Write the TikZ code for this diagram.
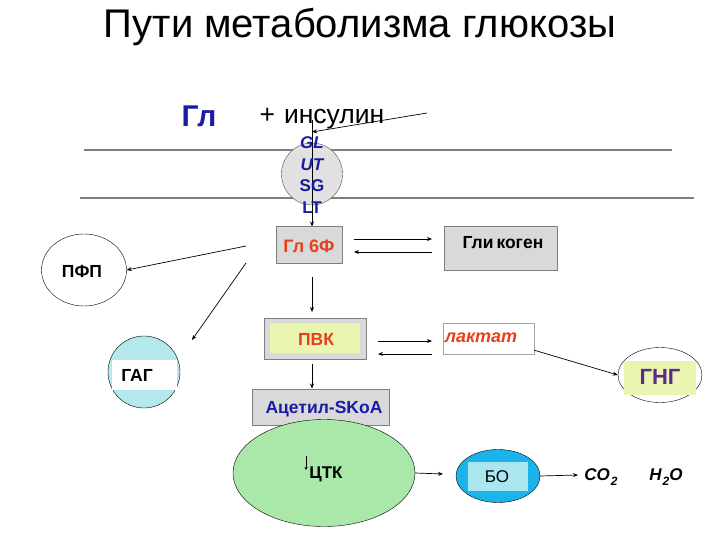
\documentclass[tikz,border=0pt]{standalone}
\usepackage{fontspec}
\setmainfont{Liberation Sans}
\usetikzlibrary{arrows.meta,shapes.geometric}
\definecolor{boxgray}{HTML}{D9D9D9}
\definecolor{edgegray}{HTML}{7F7F7F}
\definecolor{txtblue}{HTML}{1A1AA6}
\definecolor{txtred}{HTML}{E8401C}
\definecolor{ygreen}{HTML}{EAF5B0}
\definecolor{lgreen}{HTML}{A9E8A9}
\definecolor{lcyan}{HTML}{B4E8EC}
\definecolor{bblue}{HTML}{1CB2EA}
\definecolor{pcyan}{HTML}{A9E6F0}
\definecolor{purp}{HTML}{5A2A90}
\newcommand{\lowsub}[1]{\kern1pt\raisebox{-4.5pt}{\bfseries\itshape\fontsize{12}{13}\selectfont #1}}
\tikzset{
  x=1pt,y=-1pt,
  arr/.style={-{Stealth[length=5pt,width=4pt]},line width=0.7pt},
  graybox/.style={draw=edgegray,line width=1pt,fill=boxgray,rectangle,inner sep=0pt},
  lbl/.style={font=\bfseries\fontsize{17.5}{19}\selectfont},
  membrane/.style={draw=edgegray,line width=1.3pt}
}
\begin{document}
\begin{tikzpicture}
\useasboundingbox (0,0) rectangle (720,540);
% title
\node (title) at (360,27) {\fontsize{40}{44}\selectfont Пути метаболизма глюкозы};
\node[text=txtblue,font=\bfseries\fontsize{30}{32}\selectfont] (gl) at (199,116) {Гл};
\node[font=\fontsize{26.5}{30}\selectfont] (ins) at (322,119) {+\,\,инсулин};
% membrane
\draw[membrane] (84,150) -- (672,150);
\draw[membrane] (80,198) -- (694,198);
% GLUT
\node[ellipse,draw=black!70,fill=boxgray!80,minimum width=61pt,minimum height=62pt,inner sep=0pt] (glut) at (312,174) {};
\draw[line width=0.7pt] (312,120) -- (312,222);
\coordinate (insstart) at (427,113);
\coordinate (insend) at (312,132);
\draw[arr] (insstart) -- (insend);
\node[text=txtblue,font=\bfseries\fontsize{17}{21.7}\selectfont,align=center] (gluttext) at (312,175) {\itshape GL\\\itshape UT\\SG\\LT};
% boxes
\node[graybox,minimum width=66pt,minimum height=36pt] (g6f) at (309,245) {};
\node[text=txtred,lbl,font=\bfseries\fontsize{18}{20}\selectfont] at (309,246) {Гл 6Ф};
\draw[arr] (312,209) -- (g6f.north -| 312,0);
\node[graybox,minimum width=113pt,minimum height=43pt] (glyc) at (500.5,248.5) {};
\node[lbl,anchor=center] at (503,243) {Гли\,коген};
\coordinate (a1s) at (354,239); \coordinate (a1e) at (432,239);
\coordinate (a2s) at (432,252); \coordinate (a2e) at (354,252);
\draw[arr] (a1s) -- (a1e);
\draw[arr] (a2s) -- (a2e);
% PVK
\node[graybox,minimum width=102pt,minimum height=41pt] (pvk) at (315,338.5) {};
\node[fill=ygreen,minimum width=90pt,minimum height=30pt,inner sep=0pt] (pvkin) at (315,338) {};
\node[text=txtred,lbl] at (316,339) {ПВК};
\draw[arr] (312,277) -- (312,312);
% laktat
\node[draw=edgegray!70,fill=white,minimum width=91pt,minimum height=31pt,inner sep=0pt] (lakt) at (488.5,338.5) {};
\node[text=txtred,font=\bfseries\itshape\fontsize{18}{20}\selectfont] at (481,338) {лактат};
\draw[arr] (378,341) -- (432,341);
\draw[arr] (432,354) -- (378,354);
% GNG
\node[ellipse,draw=black,fill=white,minimum width=84pt,minimum height=55pt,inner sep=0pt] (gng) at (660,375) {};
\node[fill=ygreen,minimum width=72pt,minimum height=34pt,inner sep=0pt] (gngin) at (660,378) {};
\node[text=purp,font=\bfseries\fontsize{22}{24}\selectfont] at (660,377) {ГНГ};
\draw[arr] (lakt.south east) ++(0,-4) -- (gng.west);
% PFP
\node[ellipse,draw=black,fill=white,minimum width=85pt,minimum height=72pt,inner sep=0pt] (pfp) at (84,270) {};
\node[lbl] at (82,271) {ПФП};
\draw[arr] (246,246) -- (pfp.east);
% GAG
\node[circle,draw=black,fill=lcyan,minimum size=72pt,inner sep=0pt] (gag) at (144,372) {};
\node[fill=white,minimum width=65pt,minimum height=30pt,inner sep=0pt] (gagin) at (144.5,375) {};
\node[lbl] at (137,375) {ГАГ};
\draw[arr] (246,263) -- (192,340);
% Acetyl
\node[graybox,minimum width=137pt,minimum height=36pt] (acet) at (320.5,407) {};
\node[text=txtblue,font=\bfseries\fontsize{17.5}{19}\selectfont] at (324,409) {Ацетил-SKoA};
\draw[arr] (312,364) -- (acet.north -| 312,0);
% TCA
\node[ellipse,draw=black,fill=lgreen,minimum width=182pt,minimum height=107pt,inner sep=0pt] (tca) at (324,473) {};
\node[font=\bfseries\fontsize{17}{19}\selectfont] at (326,474) {ЦТК};
\draw[-{Stealth[length=3pt,width=3pt]},line width=0.6pt] (306,456) -- (306,470);
% BO
\node[ellipse,draw=black,fill=bblue,minimum width=84pt,minimum height=53pt,inner sep=0pt] (bo) at (498,476) {};
\node[fill=pcyan,minimum width=60pt,minimum height=29pt,inner sep=0pt] (boin) at (498,476.5) {};
\node[font=\fontsize{17}{19}\selectfont] at (497,477) {БО};
\coordinate (tcaend) at (443,474);
\draw[arr] (tca.east) -- (tcaend);
\node[font=\bfseries\itshape\fontsize{17}{19}\selectfont] (co2) at (601,477) {CO\lowsub{2}};
\node[font=\bfseries\itshape\fontsize{17}{19}\selectfont] (h2o) at (666,477) {H\lowsub{2}O};
\coordinate (boend) at (578,475);
\draw[arr] (bo.east) -- (boend);
\end{tikzpicture}
\end{document}
